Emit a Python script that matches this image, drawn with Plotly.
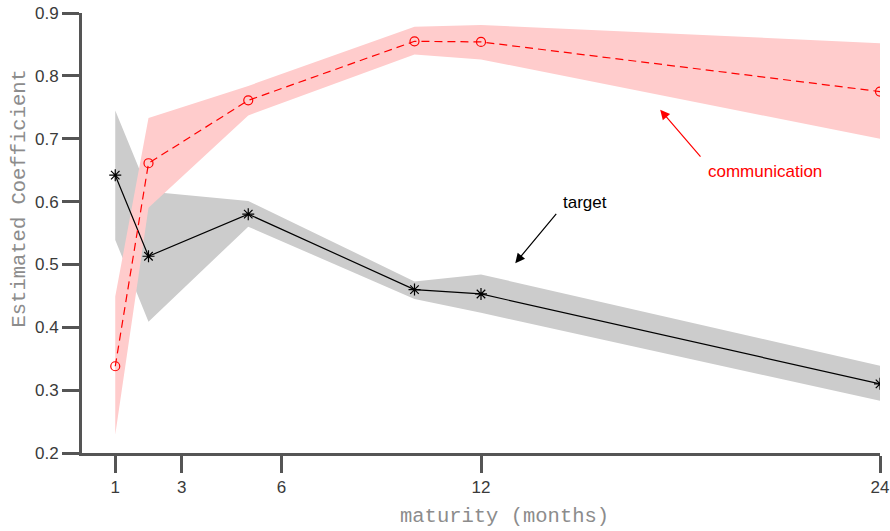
import plotly.graph_objects as go

# maturities (months) at which the coefficients were estimated
maturity = [1, 2, 5, 10, 12, 24]

# "target" coefficient with its confidence band
target_est = [0.642, 0.513, 0.580, 0.460, 0.453, 0.310]
target_hi = [0.745, 0.616, 0.601, 0.473, 0.484, 0.339]
target_lo = [0.539, 0.409, 0.560, 0.445, 0.423, 0.283]

# "communication" coefficient with its confidence band
comm_est = [0.338, 0.661, 0.761, 0.855, 0.854, 0.775]
comm_hi = [0.449, 0.733, 0.784, 0.878, 0.881, 0.852]
comm_lo = [0.229, 0.590, 0.737, 0.834, 0.826, 0.700]

x_ticks = [1, 3, 6, 12, 24]
y_ticks = [0.2, 0.3, 0.4, 0.5, 0.6, 0.7, 0.8, 0.9]

AXIS = "#555555"
LABEL = "#3a3a3a"
TITLE = "#8c8c8c"
SANS = "Liberation Sans, Arial, Helvetica, sans-serif"
MONO = "Liberation Mono, Courier New, monospace"

L, R, T, B = 82, 10, 13, 78
W, H = 890, 531
PW, PH = W - L - R, H - T - B


def band(xs, hi, lo):
    return xs + xs[::-1], hi + lo[::-1]


fig = go.Figure()

bx, by = band(maturity, target_hi, target_lo)
fig.add_trace(go.Scatter(x=bx, y=by, fill="toself", fillcolor="#cccccc",
                         line=dict(width=0), mode="lines", hoverinfo="skip"))
bx, by = band(maturity, comm_hi, comm_lo)
fig.add_trace(go.Scatter(x=bx, y=by, fill="toself", fillcolor="#ffcccc",
                         line=dict(width=0), mode="lines", hoverinfo="skip"))

fig.add_trace(go.Scatter(
    x=maturity, y=target_est, mode="lines+markers", name="target",
    line=dict(color="black", width=1.2),
    marker=dict(symbol="asterisk-open", size=10, color="black",
                line=dict(color="black", width=1.2))))
fig.add_trace(go.Scatter(
    x=maturity, y=comm_est, mode="lines+markers", name="communication",
    line=dict(color="#ff0000", width=1.2, dash="8px,5px"),
    marker=dict(symbol="circle-open", size=9, color="#ff0000",
                line=dict(color="#ff0000", width=1.2))))

# arrows pointing at each curve, with their labels
fig.add_annotation(x=17.39, y=0.746, ax=18.64, ay=0.669, xref="x", yref="y",
                   axref="x", ayref="y", text="", showarrow=True,
                   arrowhead=2, arrowsize=1.6, arrowwidth=1.2,
                   arrowcolor="#ff0000")
fig.add_annotation(x=20.54, y=0.648, xref="x", yref="y", text="communication",
                   showarrow=False, font=dict(family=SANS, size=17, color="#ff0000"))
fig.add_annotation(x=13.03, y=0.502, ax=14.30, ay=0.583, xref="x", yref="y",
                   axref="x", ayref="y", text="", showarrow=True,
                   arrowhead=2, arrowsize=1.6, arrowwidth=1.2,
                   arrowcolor="black")
fig.add_annotation(x=15.13, y=0.599, xref="x", yref="y", text="target",
                   showarrow=False, font=dict(family=SANS, size=17, color="black"))

# axis titles, placed in paper coordinates
fig.add_annotation(xref="paper", yref="paper", x=(504 - L) / PW, y=-(516.7 - (T + PH)) / PH,
                   text="maturity (months)", showarrow=False,
                   xanchor="center", yanchor="middle",
                   font=dict(family=MONO, size=20.5, color=TITLE))
fig.add_annotation(xref="paper", yref="paper", x=-(L - 18.5) / PW, y=((T + PH) - 199) / PH,
                   text="Estimated Coefficient", showarrow=False, textangle=-90,
                   xanchor="center", yanchor="middle",
                   font=dict(family=MONO, size=20.5, color=TITLE))

axis_style = dict(showgrid=False, zeroline=False, showline=True, linecolor=AXIS,
                  linewidth=3, ticks="outside", ticklen=17, tickwidth=3,
                  tickcolor=AXIS, automargin=False,
                  tickfont=dict(family=SANS, size=17, color=LABEL))

fig.update_layout(
    width=W, height=H,
    margin=dict(l=L, r=R, t=T, b=B, autoexpand=False),
    plot_bgcolor="white", paper_bgcolor="white",
    showlegend=False,
    xaxis=dict(range=[0, 24], tickvals=x_ticks, ticktext=[str(v) for v in x_ticks],
               **axis_style),
    yaxis=dict(range=[0.2, 0.9], tickvals=y_ticks, ticktext=[f"{v:.1f}" for v in y_ticks],
               **axis_style),
)

fig.write_html("out.html")
